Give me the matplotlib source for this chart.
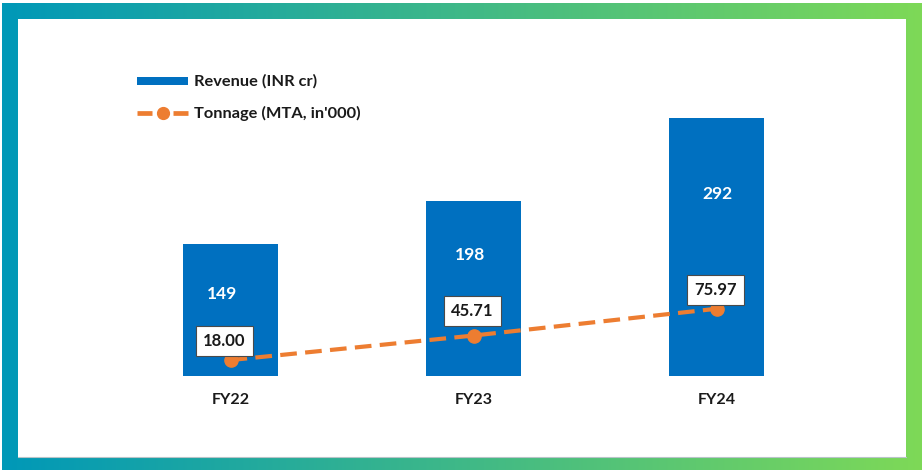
import numpy as np
import matplotlib
matplotlib.use("Agg")
import matplotlib.pyplot as plt
from matplotlib.patches import Rectangle
from matplotlib.lines import Line2D

# ---- data ----
years = ["FY22", "FY23", "FY24"]
revenue = [149, 198, 292]          # Revenue (INR cr)
tonnage = [18.00, 45.71, 75.97]    # Tonnage (MTA, in'000)

# ---- styling / layout ----
W, H = 922, 470
BLUE = "#0070C0"
ORANGE = "#ED7D31"
INK = "#1A1A1A"
rev_label_drop = [50, 54, 76]      # px below bar top
rev_label_dx = [-8, -3, 1]
ton_label_rise = [19, 25, 19]      # px above marker
ton_label_dx = [-6, -1, -1]

plt.rcParams["font.family"] = ["Lato", "DejaVu Sans"]

fig = plt.figure(figsize=(W / 100, H / 100), dpi=100)
fig.patch.set_facecolor("white")

# gradient frame (pixel coordinates)
bg = fig.add_axes([0, 0, 1, 1], zorder=0)
left_c = np.array([0, 152, 184]) / 255
right_c = np.array([126, 217, 87]) / 255
t = np.linspace(0, 1, 512)
grad = left_c[None, :] * (1 - t[:, None]) + right_c[None, :] * t[:, None]
bg.imshow(grad[None, :, :], extent=(2, W, H, 3), aspect="auto",
          interpolation="bilinear")
bg.add_patch(Rectangle((18, 19), 888, 438, facecolor="white", edgecolor="none"))
bg.plot([18, 906], [457, 457], color="#B8C4C8", lw=0.8)
bg.set_xlim(0, W)
bg.set_ylim(H, 0)
bg.axis("off")

# legend
bg.add_patch(Rectangle((137, 77), 51, 8, facecolor=BLUE, edgecolor="none"))
bg.add_line(Line2D([137, 152], [113, 113], color=ORANGE, lw=3.4, solid_capstyle="butt"))
bg.add_line(Line2D([173, 188], [113, 113], color=ORANGE, lw=3.4, solid_capstyle="butt"))
bg.add_line(Line2D([162.5], [113], marker="o", ms=8.5, color=ORANGE, lw=0))
bg.text(194, 81, "Revenue (INR cr)", fontsize=11.8, fontweight="bold",
        color=INK, va="center", ha="left")
bg.text(194, 113, "Tonnage (MTA, in'000)", fontsize=11.8, fontweight="bold",
        color=INK, va="center", ha="left")

# chart axes
x0_px, step_px = 230.5, 243.0
base_px, px_per_unit = 376.0, 0.885
xlim = (-0.7, 2.7)
ylim = (0, 330)
ax_left = x0_px + xlim[0] * step_px
ax_width = (xlim[1] - xlim[0]) * step_px
ax_top = base_px - ylim[1] * px_per_unit
ax = fig.add_axes([ax_left / W, (H - base_px) / H, ax_width / W,
                   (base_px - ax_top) / H], zorder=1)
ax.set_facecolor("none")
ax.set_xlim(*xlim)
ax.set_ylim(*ylim)

x = np.arange(len(years))
ax.bar(x, revenue, width=0.395, color=BLUE, zorder=2)
ax.plot(x, tonnage, color=ORANGE, lw=3, dashes=(4, 2), marker="o", ms=9.5,
        markeredgecolor=ORANGE, zorder=3)

for xi, v, d, dx in zip(x, revenue, rev_label_drop, rev_label_dx):
    ax.annotate(f"{v}", (xi, v), xytext=(dx * 0.72, -d * 0.72),
                textcoords="offset points", ha="center", va="center",
                fontsize=12.5, fontweight="bold", color="white", zorder=4)

for xi, v, r, dx in zip(x, tonnage, ton_label_rise, ton_label_dx):
    ax.annotate(f"{v:.2f}", (xi, v), xytext=(dx * 0.72, r * 0.72),
                textcoords="offset points", ha="center", va="center",
                fontsize=12, fontweight="bold", color=INK, zorder=5,
                bbox=dict(boxstyle="square,pad=0.42", facecolor="white",
                          edgecolor="#4A4A4A", linewidth=0.8))

ax.set_xticks(x, years)
ax.tick_params(axis="x", length=0, pad=12, labelsize=11.5, labelcolor=INK)
for lab in ax.get_xticklabels():
    lab.set_fontweight("bold")
ax.set_yticks([])
for s in ax.spines.values():
    s.set_visible(False)

fig.savefig("out.png", dpi=100, facecolor="white")
